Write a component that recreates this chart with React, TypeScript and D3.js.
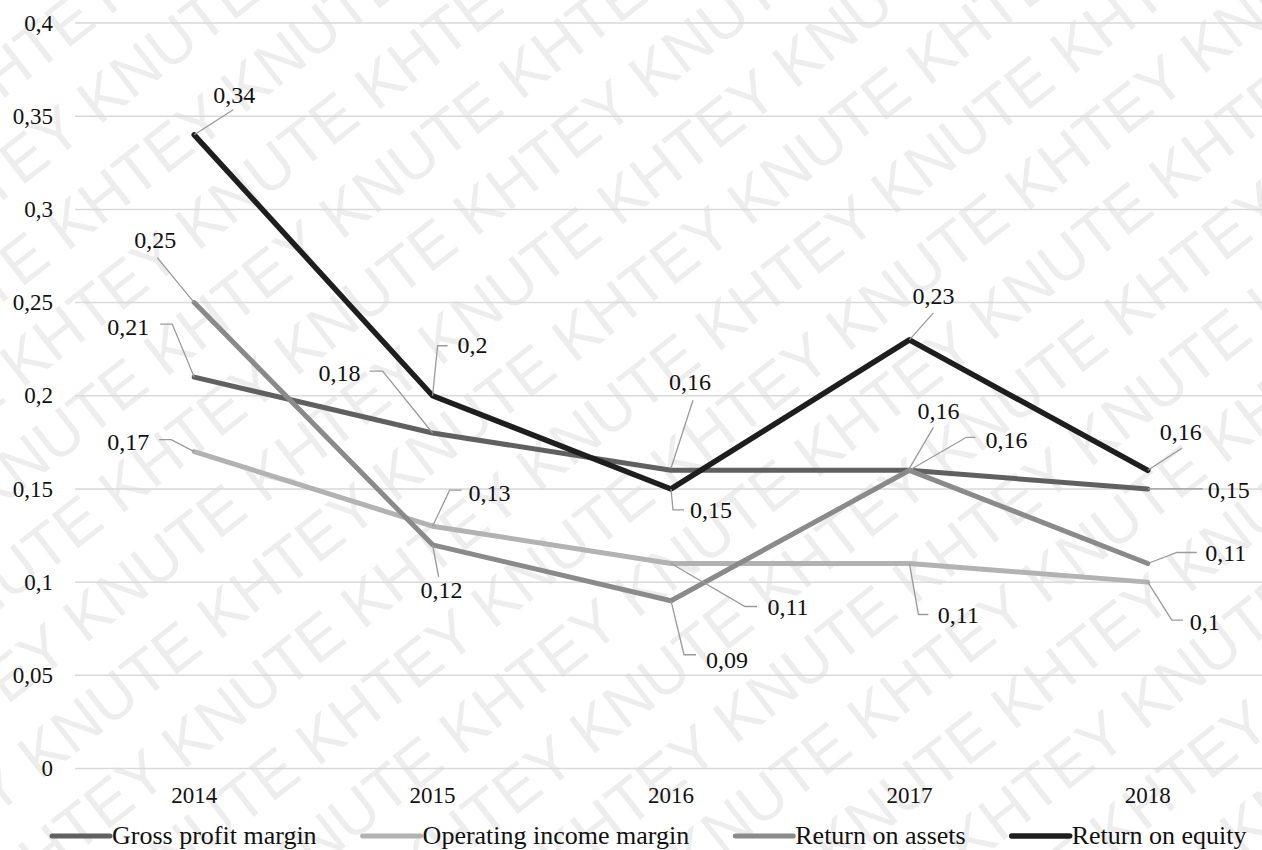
import React from "react";
import * as d3 from "d3";

// Financial ratios, 2014–2018
const years = ["2014", "2015", "2016", "2017", "2018"];
const grossProfitMargin = [0.21, 0.18, 0.16, 0.16, 0.15];
const operatingIncomeMargin = [0.17, 0.13, 0.11, 0.11, 0.1];
const returnOnAssets = [0.25, 0.12, 0.09, 0.16, 0.11];
const returnOnEquity = [0.34, 0.2, 0.15, 0.23, 0.16];
const seriesNames = [
  "Gross profit margin",
  "Operating income margin",
  "Return on assets",
  "Return on equity",
];
const yTicks = [0, 0.05, 0.1, 0.15, 0.2, 0.25, 0.3, 0.35, 0.4];

const seriesValues = [grossProfitMargin, operatingIncomeMargin, returnOnAssets, returnOnEquity];
const seriesColors = ["#606060", "#b2b2b2", "#8a8a8a", "#1e1e1e"];
const seriesWidths = [5, 5, 5, 5.5];

// Data label placement: text centre offset [dx, dy] from the point, and leader polyline offsets
type LabelPos = { d: [number, number]; leader: [number, number][] };
const labelLayout: LabelPos[][] = [
  [
    { d: [-66, -50], leader: [[0, 0], [-22, -53], [-34, -53]] },
    { d: [-93, -60], leader: [[0, 0], [-50, -62], [-63, -62]] },
    { d: [19, -88], leader: [[0, -2], [22, -70]] },
    { d: [97, -30], leader: [[0, 0], [57, -33], [66, -33]] },
    { d: [81, 1], leader: [[0, 0], [55, 0]] },
  ],
  [
    { d: [-66, -10], leader: [[0, 0], [-23, -12], [-35, -12]] },
    { d: [57, -33], leader: [[0, 0], [17, -36], [29, -36]] },
    { d: [117, 44], leader: [[0, 0], [74, 43], [86, 43]] },
    { d: [49, 52], leader: [[0, 0], [9, 51], [19, 51]] },
    { d: [57, 40], leader: [[0, 0], [24, 38], [35, 38]] },
  ],
  [
    { d: [-39, -62], leader: [[0, 0], [-37, -45]] },
    { d: [9, 45], leader: [[0, 0], [6, 32]] },
    { d: [56, 59], leader: [[0, 0], [13, 54], [25, 54]] },
    { d: [29, -59], leader: [[0, -2], [24, -43]] },
    { d: [78, -10], leader: [[0, 0], [29, -11], [49, -11]] },
  ],
  [
    { d: [40, -40], leader: [[0, 0], [39, -25]] },
    { d: [40, -51], leader: [[0, 0], [5, -50], [15, -50]] },
    { d: [40, 21], leader: [[0, 0], [2, 21], [13, 21]] },
    { d: [24, -44], leader: [[0, 0], [24, -27]] },
    { d: [33, -38], leader: [[0, 0], [34, -22]] },
  ],
];

const W = 1262;
const H = 850;
const SERIF = '"Liberation Serif"';
const SANS = '"Liberation Sans"';
const fmt = (v: number) => String(+v.toFixed(2)).replace(".", ",");

const x = d3.scalePoint<string>().domain(years).range([75, 1267]).padding(0.5);
const y = d3.scaleLinear().domain([0, 0.4]).range([768.5, 23]);
const lineGen = d3
  .line<number>()
  .x((_, i) => x(years[i])!)
  .y((v) => y(v));

// Text widths for the legend row
function measure(text: string, size: number): number {
  const ctx = document.createElement("canvas").getContext("2d");
  if (!ctx) return text.length * size * 0.42;
  ctx.font = `${size}px "Liberation Serif"`;
  return ctx.measureText(text).width;
}

const LEGEND_SIZE = 26;
const LEGEND_LINE = 58;
const LEGEND_GAP = 46;

const watermarkPhrase = d3.range(14).map((i) => (i % 2 ? "KHTEY" : "KNUTE")).join(" ");
const watermarkRows = d3.range(-5, 24);

export default function App() {
  let cursor = 52;
  const legendItems = seriesNames.map((name, s) => {
    const start = cursor;
    const w = measure(name, LEGEND_SIZE);
    cursor += LEGEND_LINE + 2 + w + LEGEND_GAP;
    return { name, s, start };
  });

  const textStyle = (size: number) => ({ fontFamily: SERIF, fontSize: `${size}px` });

  return (
    <svg
      width={W}
      height={H}
      style={{ position: "absolute", left: 0, top: 0, display: "block" }}
    >
      <rect width={W} height={H} fill="#fff" />

      {/* background watermark */}
      <g transform="rotate(-38)" fill="#ededed" style={{ fontFamily: SANS, fontSize: "62px" }}>
        {watermarkRows.map((r) => (
          <text key={r} x={-900 + (r % 2) * 120} y={r * 80}>
            {watermarkPhrase}
          </text>
        ))}
      </g>

      {/* gridlines and value axis */}
      <g>
        {yTicks.map((t) => (
          <g key={t}>
            <line x1={75} x2={W} y1={y(t)} y2={y(t)} stroke="#d9d9d9" strokeWidth={1.5} />
            <text
              x={53}
              y={y(t)}
              dy="0.33em"
              textAnchor="end"
              fill="#111"
              style={textStyle(23)}
            >
              {fmt(t)}
            </text>
          </g>
        ))}
      </g>

      {/* category axis */}
      <g>
        {years.map((yr) => (
          <text key={yr} x={x(yr)} y={803} textAnchor="middle" fill="#111" style={textStyle(23)}>
            {yr}
          </text>
        ))}
      </g>

      {/* series lines */}
      <g>
        {seriesValues.map((vals, s) => (
          <path
            key={s}
            d={lineGen(vals) || ""}
            fill="none"
            stroke={seriesColors[s]}
            strokeWidth={seriesWidths[s]}
            strokeLinejoin="round"
            strokeLinecap="round"
          />
        ))}
      </g>

      {/* data labels with leader lines */}
      <g>
        {seriesValues.map((vals, s) =>
          vals.map((v, i) => {
            const px = x(years[i])!;
            const py = y(v);
            const lay = labelLayout[s][i];
            return (
              <g key={`${s}-${i}`}>
                <polyline
                  points={lay.leader.map(([dx, dy]) => `${px + dx},${py + dy}`).join(" ")}
                  fill="none"
                  stroke="#9a9a9a"
                  strokeWidth={1.3}
                />
                <text
                  x={px + lay.d[0]}
                  y={py + lay.d[1]}
                  dy="0.33em"
                  textAnchor="middle"
                  fill="#111"
                  style={textStyle(24)}
                >
                  {fmt(v)}
                </text>
              </g>
            );
          })
        )}
      </g>

      {/* legend */}
      <g>
        {legendItems.map(({ name, s, start }) => (
          <g key={name}>
            <line
              x1={start}
              x2={start + LEGEND_LINE}
              y1={836}
              y2={836}
              stroke={seriesColors[s]}
              strokeWidth={seriesWidths[s]}
              strokeLinecap="round"
            />
            <text x={start + LEGEND_LINE + 2} y={844} fill="#111" style={textStyle(LEGEND_SIZE)}>
              {name}
            </text>
          </g>
        ))}
      </g>
    </svg>
  );
}
